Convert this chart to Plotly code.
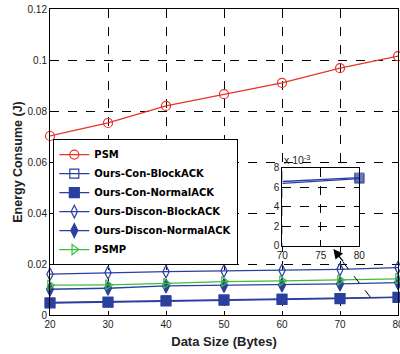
import plotly.graph_objects as go

data_size = [20, 30, 40, 50, 60, 70, 80]
psm = [0.0702, 0.0753, 0.0820, 0.0866, 0.0910, 0.0968, 0.1015]
con_block = [0.0049, 0.0052, 0.0057, 0.0060, 0.0063, 0.0066, 0.0070]
con_normal = [0.0047, 0.0050, 0.0055, 0.0058, 0.0061, 0.0064, 0.0069]
discon_block = [0.0160, 0.0166, 0.0170, 0.0173, 0.0175, 0.0179, 0.0186]
discon_normal = [0.0101, 0.0105, 0.0114, 0.0116, 0.0118, 0.0122, 0.0127]
psmp = [0.0117, 0.0118, 0.0124, 0.0131, 0.0134, 0.0137, 0.0142]

y_ticks = [0, 0.02, 0.04, 0.06, 0.08, 0.1, 0.12]
y_ticktext = ["0", "0.02", "0.04", "0.06", "0.08", "0.1", "0.12"]
x_ticks = [20, 30, 40, 50, 60, 70, 80]
inset_x_ticks = [70, 75, 80]
inset_y_ticks = [0, 2, 4, 6, 8]

RED = "#e8342c"
BLUE = "#2b3f9f"
GREEN = "#3cbf3c"
FONT = "Liberation Sans, Arial, sans-serif"
LEGFONT = "DejaVu Sans, sans-serif"

fig = go.Figure()

series = [
    ("PSM", psm, RED, "circle-open", 9),
    ("Ours-Con-BlockACK", con_block, BLUE, "square-open", 9),
    ("Ours-Con-NormalACK", con_normal, BLUE, "square", 10),
    ("Ours-Discon-BlockACK", discon_block, BLUE, "diamond-tall-open", 9),
    ("Ours-Discon-NormalACK", discon_normal, BLUE, "diamond-tall", 10),
    ("PSMP", psmp, GREEN, "triangle-right-open", 9),
]
for name, vals, col, sym, sz in series:
    fig.add_trace(go.Scatter(
        x=data_size, y=vals, name=name, mode="lines+markers",
        line=dict(color=col, width=1.3),
        marker=dict(symbol=sym, size=sz, color=col, line=dict(color=col, width=1.2)),
        cliponaxis=False,
    ))

# inset (scaled by 1e-3)
ix = [x for x in data_size if x >= 70]
for name, vals, sym in [("Ours-Con-BlockACK", con_block, "square-open"),
                        ("Ours-Con-NormalACK", con_normal, "square")]:
    iv = [v * 1000 for x, v in zip(data_size, vals) if x >= 70]
    fig.add_trace(go.Scatter(
        x=ix, y=iv, xaxis="x2", yaxis="y2", mode="lines+markers", showlegend=False,
        line=dict(color=BLUE, width=1.3),
        marker=dict(symbol=sym, size=[0, 9], color=BLUE, line=dict(color=BLUE, width=1.2)),
        cliponaxis=False,
    ))

axis_common = dict(
    showline=True, linecolor="black", linewidth=1, mirror=True,
    showgrid=True, gridcolor="black", griddash="dash", gridwidth=1,
    ticks="inside", ticklen=4, tickcolor="black",
    tickfont=dict(family=FONT, size=10, color="#222"),
    zeroline=False, automargin=False, ticklabeloverflow="allow",
)

fig.update_layout(
    width=400, height=354,
    margin=dict(l=50, r=2, t=9, b=39, autoexpand=False),
    paper_bgcolor="white", plot_bgcolor="white",
    xaxis=dict(range=[20, 80], tickvals=x_ticks, domain=[0, 1],
               title=dict(text="<b>Data Size (Bytes)</b>", font=dict(family=FONT, size=13, color="#222"), standoff=7),
               **axis_common),
    yaxis=dict(range=[0, 0.12], tickvals=y_ticks, ticktext=y_ticktext, domain=[0, 1],
               title=dict(text="<b>Energy Consume (J)</b>", font=dict(family=FONT, size=12.5, color="#222"), standoff=2),
               **axis_common),
    xaxis2=dict(range=[70, 80], tickvals=inset_x_ticks, domain=[0.6675, 0.889], anchor="y2",
                **axis_common),
    yaxis2=dict(range=[0, 8], tickvals=inset_y_ticks, domain=[0.2255, 0.481], anchor="x2",
                **axis_common),
    legend=dict(x=0.0095, y=0.369, xanchor="left", yanchor="middle",
                bgcolor="white", bordercolor="black", borderwidth=1,
                font=dict(family=LEGFONT, size=10, color="black", weight="bold"),
                tracegroupgap=0, itemwidth=30),
    showlegend=True,
)

fig.add_annotation(x=0, y=1, xref="x2 domain", yref="y2 domain", xanchor="left", yanchor="bottom",
                   text="x 10<sup>-3</sup>", showarrow=False, yshift=0,
                   font=dict(family=FONT, size=10.5, color="#222"))

# dashed pointer line and arrow head
fig.add_shape(type="line", xref="x", yref="y", x0=70.5, y0=0.0208, x1=75.2, y1=0.0071,
              line=dict(color="black", width=1, dash="dash"))
fig.add_annotation(x=68.85, y=0.0259, xref="x", yref="y", ax=11, ay=14, showarrow=True,
                   arrowhead=2, arrowsize=1.6, arrowwidth=1.2, arrowcolor="black", text="")

fig.write_html("out.html", config={"displayModeBar": False},
               post_script="document.body.style.margin='0';document.body.style.overflow='hidden';")
